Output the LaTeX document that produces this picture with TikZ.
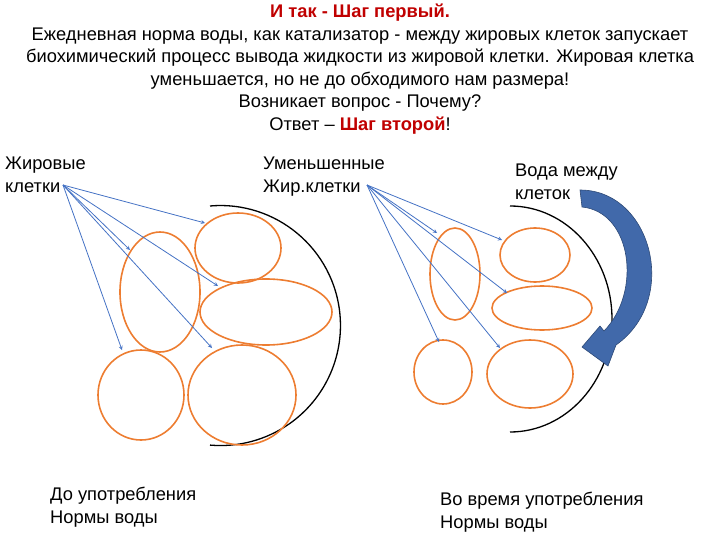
\documentclass[tikz,border=0pt]{standalone}
\usepackage{fontspec}
\setmainfont{Liberation Sans}
\definecolor{dred}{RGB}{192,0,0}
\definecolor{cellc}{RGB}{237,125,49}
\definecolor{arr}{RGB}{68,114,196}
\definecolor{bigarr}{RGB}{65,105,170}
\begin{document}
\begin{tikzpicture}[x=1pt,y=-1pt,
  txt/.style={font=\fontsize{18.3}{22.5}\selectfont,inner sep=0pt},
  lbl/.style={txt,anchor=north west,align=left},
  cell/.style={draw=cellc,line width=1.6pt},
  ptr/.style={draw=arr,line width=0.8pt,-stealth},
  rim/.style={draw=black,line width=1.3pt}]
\useasboundingbox (0,0) rectangle (720,540);
\node[txt,anchor=north,align=center] (title) at (360,4) {%
{\color{dred}\bfseries И так - Шаг первый.}\\
Ежедневная норма воды, как катализатор - между жировых клеток запускает\\
биохимический процесс вывода жидкости из жировой клетки. Жировая клетка\\
уменьшается, но не до обходимого нам размера!\\
Возникает вопрос - Почему?\\
Ответ – {\color{dred}\bfseries Шаг второй}!};
\node[lbl] (l1) at (5,157) {Жировые\\клетки};
\node[lbl] (l2) at (263,157) {Уменьшенные\\Жир.клетки};
\node[lbl] (l3) at (515,164) {Вода между\\клеток};
\node[lbl] (l4) at (50,487) {До употребления\\Нормы воды};
\node[lbl] (l5) at (440,492) {Во время употребления\\Нормы воды};
% left group
\draw[rim] (210,206) arc[start angle=-95,end angle=95,x radius=120,y radius=120];
\draw[cell] (160,292) ellipse[x radius=40,y radius=60];
\draw[cell] (238,248) ellipse[x radius=43,y radius=35];
\draw[cell] (266,312) ellipse[x radius=66,y radius=33];
\draw[cell] (141,395) ellipse[x radius=43,y radius=45];
\draw[cell] (242,395) ellipse[x radius=54,y radius=50];
\coordinate (o1) at (63,185);
\foreach \t in {(205,223),(218,286),(212,348),(122,350),(130,250)}
  \draw[ptr] (o1) -- \t;
% right group
\draw[rim] (510,206) arc[start angle=-90,end angle=90,x radius=102,y radius=113];
\draw[cell] (455,274) ellipse[x radius=25,y radius=46];
\draw[cell] (535,255) ellipse[x radius=35,y radius=27];
\draw[cell] (542,308) ellipse[x radius=50,y radius=22];
\draw[cell] (443,372) ellipse[x radius=29,y radius=32];
\draw[cell] (530,374) ellipse[x radius=43,y radius=34];
\coordinate (o2) at (367,185);
\foreach \t in {(502,240),(507,293),(500,348),(439,342),(437,233)}
  \draw[ptr] (o2) -- \t;
% big arrow
\fill[bigarr,draw=bigarr!70!black,line width=0.6pt]
 (580,190) .. controls (652,190) and (680,300) .. (616,345)
 -- (608,366) -- (582,347) -- (600,326) -- (604,331)
 .. controls (642,292) and (632,212) .. (582,207) -- cycle;
\end{tikzpicture}
\end{document}
